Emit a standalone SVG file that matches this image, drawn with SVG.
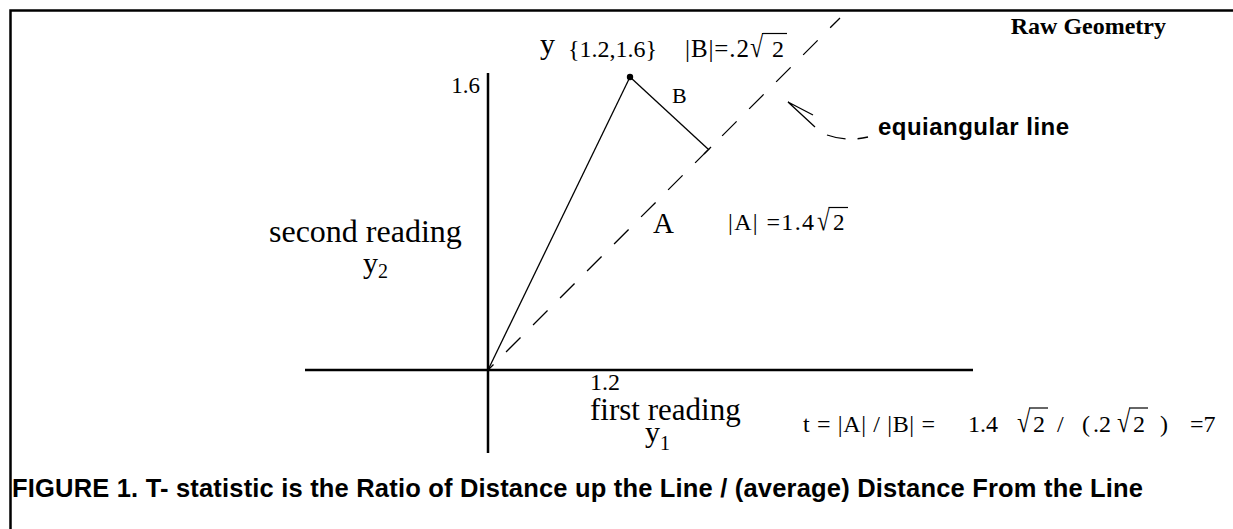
<svg xmlns="http://www.w3.org/2000/svg" width="1233" height="529" viewBox="0 0 1233 529">
<style>
.s{font-family:"Liberation Serif","Times New Roman",serif;fill:#000}
.b{font-family:"Liberation Sans",Arial,sans-serif;font-weight:bold;fill:#000}
.ax{stroke:#000;stroke-width:2.5;fill:none}
.ln{stroke:#000;stroke-width:1.3;fill:none}
.ov{stroke:#000;stroke-width:1.2}
</style>
<rect x="0" y="0" width="1233" height="529" fill="#fff"/>
<g id="frame">
<polyline points="10.5,529 10.5,10.5 1233,10.5" class="ax"/>
</g>
<g id="axes">
<line x1="488" y1="73" x2="488" y2="453" class="ax"/>
<line x1="305" y1="370" x2="973" y2="370" class="ax"/>
</g>
<g id="connectors">
<line id="equiangular" x1="488" y1="370" x2="840" y2="18" class="ln" stroke-dasharray="20.5 17.7" stroke-dashoffset="12.7"/>
<line id="vector-y" x1="488" y1="370" x2="630" y2="77" class="ln"/>
<line id="seg-B" x1="630" y1="77" x2="708" y2="149" class="ln"/>
<line x1="704" y1="154" x2="711" y2="147" class="ln"/>
<path id="pointer" d="M827,135 Q847,142 868,137" class="ln" stroke-dasharray="19 12"/>
<polyline points="813,115 788,102 815,127" class="ln"/>
</g>
<g id="point-y">
<circle cx="630" cy="77" r="3.2" fill="#000"/>
<text class="s" x="540" y="54" font-size="30">y</text>
<text class="s" x="568" y="57" font-size="24">{1.2,1.6}</text>
<text class="s" x="685" y="57" font-size="25" textLength="64" lengthAdjust="spacing">|B|=.2</text>
<text class="s" transform="translate(750,57) scale(1,1.25)" font-size="24">√</text>
<text class="s" x="772" y="57" font-size="24">2</text>
<line x1="762" y1="33.5" x2="787" y2="33.5" class="ov"/>
</g>
<g id="label-B"><text class="s" x="672" y="103" font-size="22">B</text></g>
<g id="label-A"><text class="s" x="653" y="233" font-size="29">A</text></g>
<g id="label-absA">
<text class="s" x="728" y="230" font-size="24" textLength="86" lengthAdjust="spacing">|A| =1.4</text>
<text class="s" transform="translate(817,230) scale(1,1.25)" font-size="23">√</text>
<text class="s" x="833" y="230" font-size="23">2</text>
<line x1="828.5" y1="207.5" x2="848" y2="207.5" class="ov"/>
</g>
<g id="title"><text class="s" x="1166" y="34" font-size="24" font-weight="bold" text-anchor="end">Raw Geometry</text></g>
<g id="label-equiangular"><text class="b" x="878" y="135" font-size="24" textLength="191" lengthAdjust="spacing">equiangular line</text></g>
<g id="y-axis-labels">
<text class="s" x="480" y="93" font-size="23" text-anchor="end">1.6</text>
<text class="s" x="269" y="242" font-size="32">second reading</text>
<text class="s" x="363" y="273" font-size="30">y</text>
<text class="s" x="378" y="278" font-size="20">2</text>
</g>
<g id="x-axis-labels">
<text class="s" x="590" y="390" font-size="24">1.2</text>
<text class="s" x="590" y="420" font-size="31">first reading</text>
<text class="s" x="645" y="442" font-size="30">y</text>
<text class="s" x="660" y="450" font-size="20">1</text>
</g>
<g id="formula-t">
<text class="s" x="803" y="432" font-size="24" textLength="132" lengthAdjust="spacing" xml:space="preserve">t = |A| / |B| =</text>
<text class="s" x="968" y="432" font-size="24">1.4</text>
<text class="s" transform="translate(1017,432) scale(1,1.25)" font-size="24">√</text>
<text class="s" x="1033" y="432" font-size="24">2</text>
<line x1="1029" y1="408" x2="1048" y2="408" class="ov"/>
<text class="s" x="1057" y="432" font-size="24">/</text>
<text class="s" x="1082" y="432" font-size="24">(</text>
<text class="s" x="1093" y="432" font-size="24">.2</text>
<text class="s" transform="translate(1117,432) scale(1,1.25)" font-size="24">√</text>
<text class="s" x="1133" y="432" font-size="24">2</text>
<line x1="1129" y1="408" x2="1148" y2="408" class="ov"/>
<text class="s" x="1160" y="432" font-size="24">)</text>
<text class="s" x="1190" y="432" font-size="24">=7</text>
</g>
<g id="caption"><text class="b" x="12" y="497" font-size="25.5" textLength="1131" lengthAdjust="spacing">FIGURE 1. T- statistic is the Ratio of Distance up the Line / (average) Distance From the Line</text></g>
</svg>
